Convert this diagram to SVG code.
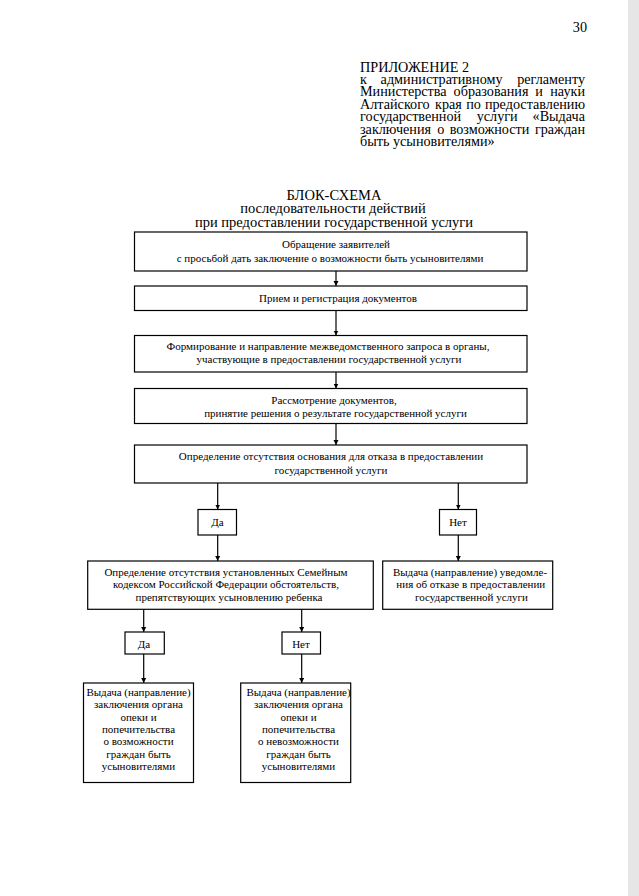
<svg xmlns="http://www.w3.org/2000/svg" width="639" height="896" viewBox="0 0 639 896">
<style>
.h{font-family:"Liberation Serif","Times New Roman",serif;font-size:14.2px;fill:#000}
.t{font-family:"Liberation Serif","Times New Roman",serif;font-size:14.5px;fill:#000;text-anchor:middle}
.b{font-family:"Liberation Serif","Times New Roman",serif;font-size:11px;fill:#000;text-anchor:middle}
.box{fill:#fff;stroke:#000;stroke-width:1.2}
.c{stroke:#000;stroke-width:1.2;fill:none;marker-end:url(#ah)}
.e{text-anchor:end}
.m{text-anchor:middle}
</style>
<defs>
<marker id="ah" viewBox="0 0 10 10" refX="10" refY="5" markerWidth="5" markerHeight="6" markerUnits="userSpaceOnUse" orient="auto">
<path d="M0,0 L10,5 L0,10 Z" fill="#000"/>
</marker>
</defs>
<rect width="639" height="896" fill="#fff"/>
<rect x="628" y="0" width="11" height="896" fill="#e6e6e6"/>

<g id="header">
<text class="h e" x="587" y="32">30</text>
<text class="h" x="360" y="71.5">ПРИЛОЖЕНИЕ 2</text>
<text class="h" x="360" y="84">к</text>
<text class="h m" x="441.6" y="84">административному</text>
<text class="h e" x="585" y="84">регламенту</text>
<text class="h" x="360" y="96.3">Министерства</text>
<text class="h m" x="491" y="96.3">образования</text>
<text class="h m" x="539" y="96.3">и</text>
<text class="h e" x="585" y="96.3">науки</text>
<text class="h" x="360" y="108.7">Алтайского</text>
<text class="h m" x="448.4" y="108.7">края</text>
<text class="h m" x="473.5" y="108.7">по</text>
<text class="h e" x="585" y="108.7">предоставлению</text>
<text class="h" x="360" y="121.3">государственной</text>
<text class="h m" x="497.2" y="121.3">услуги</text>
<text class="h e" x="585" y="121.3">«Выдача</text>
<text class="h" x="360" y="133.7">заключения</text>
<text class="h m" x="440.7" y="133.7">о</text>
<text class="h m" x="489.5" y="133.7">возможности</text>
<text class="h e" x="585" y="133.7">граждан</text>
<text class="h" x="360" y="146.3">быть усыновителями»</text>
</g>

<g id="title">
<text class="t" x="334" y="200" font-size="16">БЛОК-СХЕМА</text>
<text class="t" x="333" y="213">последовательности действий</text>
<text class="t" x="334" y="226.5">при предоставлении государственной услуги</text>
</g>

<g id="connectors">
<line class="c" x1="336" y1="271" x2="336" y2="286"/>
<line class="c" x1="336" y1="310.5" x2="336" y2="335.5"/>
<line class="c" x1="336" y1="372" x2="336" y2="388.5"/>
<line class="c" x1="336" y1="423.5" x2="336" y2="445"/>
<line class="c" x1="217.7" y1="483" x2="217.7" y2="509.5"/>
<line class="c" x1="458.3" y1="483" x2="458.3" y2="509.5"/>
<line class="c" x1="217.7" y1="535" x2="217.7" y2="561"/>
<line class="c" x1="458.3" y1="535" x2="458.3" y2="561"/>
<line class="c" x1="143.7" y1="609.3" x2="143.7" y2="632"/>
<line class="c" x1="301.7" y1="609.3" x2="301.7" y2="632"/>
<line class="c" x1="143.7" y1="654" x2="143.7" y2="683"/>
<line class="c" x1="301.7" y1="654" x2="301.7" y2="683"/>
</g>

<g id="n1">
<rect class="box" x="134.5" y="232" width="392.5" height="39"/>
<text class="b" x="336" y="248">Обращение заявителей</text>
<text class="b" x="330" y="261.5">с просьбой дать заключение о возможности быть усыновителями</text>
</g>
<g id="n2">
<rect class="box" x="134.5" y="286" width="392.5" height="24.5"/>
<text class="b" x="338" y="302">Прием и регистрация документов</text>
</g>
<g id="n3">
<rect class="box" x="134.5" y="335.5" width="392.5" height="36.5"/>
<text class="b" x="328" y="350">Формирование и направление межведомственного запроса в органы,</text>
<text class="b" x="329" y="363">участвующие в предоставлении государственной услуги</text>
</g>
<g id="n4">
<rect class="box" x="134.5" y="388.5" width="392.5" height="35"/>
<text class="b" x="334" y="404">Рассмотрение документов,</text>
<text class="b" x="335.5" y="417">принятие решения о результате государственной услуги</text>
</g>
<g id="n5">
<rect class="box" x="134.5" y="445" width="392.5" height="38"/>
<text class="b" x="331" y="460">Определение отсутствия основания для отказа в предоставлении</text>
<text class="b" x="331" y="473.5">государственной услуги</text>
</g>
<g id="yes1">
<rect class="box" x="198" y="509.5" width="38.5" height="25.5"/>
<text class="b" x="217.5" y="526">Да</text>
</g>
<g id="no1">
<rect class="box" x="439.5" y="509.5" width="37" height="25.5"/>
<text class="b" x="458" y="526">Нет</text>
</g>
<g id="n6">
<rect class="box" x="87.7" y="561" width="285.6" height="48.3"/>
<text class="b" x="226" y="575.5">Определение отсутствия установленных Семейным</text>
<text class="b" x="226" y="588">кодексом Российской Федерации обстоятельств,</text>
<text class="b" x="229" y="600.5">препятствующих усыновлению ребенка</text>
</g>
<g id="n7">
<rect class="box" x="382.7" y="561" width="170" height="48.3"/>
<text class="b" x="470" y="575.5">Выдача (направление) уведомле-</text>
<text class="b" x="470.8" y="588">ния об отказе в предоставлении</text>
<text class="b" x="471.5" y="600.5">государственной услуги</text>
</g>
<g id="yes2">
<rect class="box" x="125" y="632" width="39.3" height="22"/>
<text class="b" x="144" y="647.5">Да</text>
</g>
<g id="no2">
<rect class="box" x="282" y="632" width="38.5" height="22"/>
<text class="b" x="301" y="647.5">Нет</text>
</g>
<g id="n8">
<rect class="box" x="83.5" y="683" width="110" height="99.5"/>
<text class="b" x="138.5" y="696">Выдача (направление)</text>
<text class="b" x="138.5" y="708.3">заключения органа</text>
<text class="b" x="138.5" y="720.5">опеки и</text>
<text class="b" x="138.5" y="732.8">попечительства</text>
<text class="b" x="138.5" y="745">о возможности</text>
<text class="b" x="138.5" y="757.5">граждан быть</text>
<text class="b" x="138.5" y="770">усыновителями</text>
</g>
<g id="n9">
<rect class="box" x="240.7" y="683" width="110" height="99.5"/>
<text class="b" x="298.5" y="696">Выдача (направление)</text>
<text class="b" x="298.5" y="708.3">заключения органа</text>
<text class="b" x="298.5" y="720.5">опеки и</text>
<text class="b" x="298.5" y="732.8">попечительства</text>
<text class="b" x="298.5" y="745">о невозможности</text>
<text class="b" x="298.5" y="757.5">граждан быть</text>
<text class="b" x="298.5" y="770">усыновителями</text>
</g>
</svg>
